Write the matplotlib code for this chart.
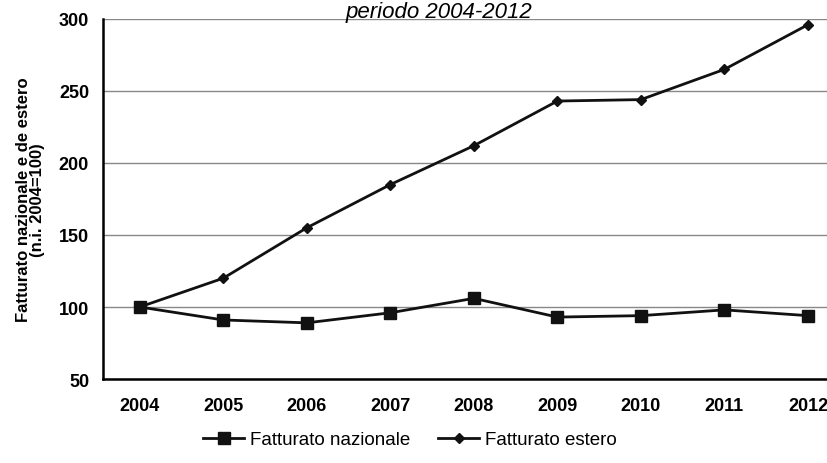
import matplotlib.pyplot as plt
from matplotlib import font_manager

# Data (indice 2004=100)
anni = [2004, 2005, 2006, 2007, 2008, 2009, 2010, 2011, 2012]
nazionale = [100, 91, 89, 96, 106, 93, 94, 98, 94]
estero = [100, 120, 155, 185, 212, 243, 244, 265, 296]

names = {f.name for f in font_manager.fontManager.ttflist}
narrow = 'Liberation Sans Narrow' if 'Liberation Sans Narrow' in names else 'Liberation Sans'
plt.rcParams['font.family'] = [narrow, 'DejaVu Sans']

fig = plt.figure(figsize=(8.28, 4.64), dpi=100)
ax = fig.add_axes([0.1244, 0.181, 0.8756, 0.776])

ax.plot(anni, nazionale, color='#111111', lw=2, marker='s', ms=8, label='Fatturato nazionale')
ax.plot(anni, estero, color='#111111', lw=2, marker='D', ms=5, label='Fatturato estero')

ax.set_ylim(50, 300)
ax.set_xlim(2003.56, 2012.24)
ax.set_yticks([50, 100, 150, 200, 250, 300])
ax.set_xticks(anni)
ax.yaxis.grid(True, color='#888888', lw=1)
ax.set_axisbelow(True)
ax.tick_params(length=0, labelsize=13)
ax.tick_params(axis='x', pad=13)
ax.tick_params(axis='y', pad=10)
for lab in ax.get_xticklabels() + ax.get_yticklabels():
    lab.set_fontweight('bold')

for s in ['top', 'right']:
    ax.spines[s].set_visible(False)
ax.spines['left'].set_linewidth(1.8)
ax.spines['bottom'].set_linewidth(1.8)

ax.set_ylabel('Fatturato nazionale e de estero\n(n.i. 2004=100)', fontsize=12,
              fontweight='bold', labelpad=10, linespacing=0.95)

fig.text(0.53, 0.972, 'periodo 2004-2012', style='italic', fontsize=16,
         ha='center', va='center')

fig.legend(loc='lower center', bbox_to_anchor=(0.495, -0.005), ncol=2, frameon=False,
           fontsize=13.5, handlelength=2.2, columnspacing=1.5, handletextpad=0.3)

fig.savefig('out.png', dpi=100)
